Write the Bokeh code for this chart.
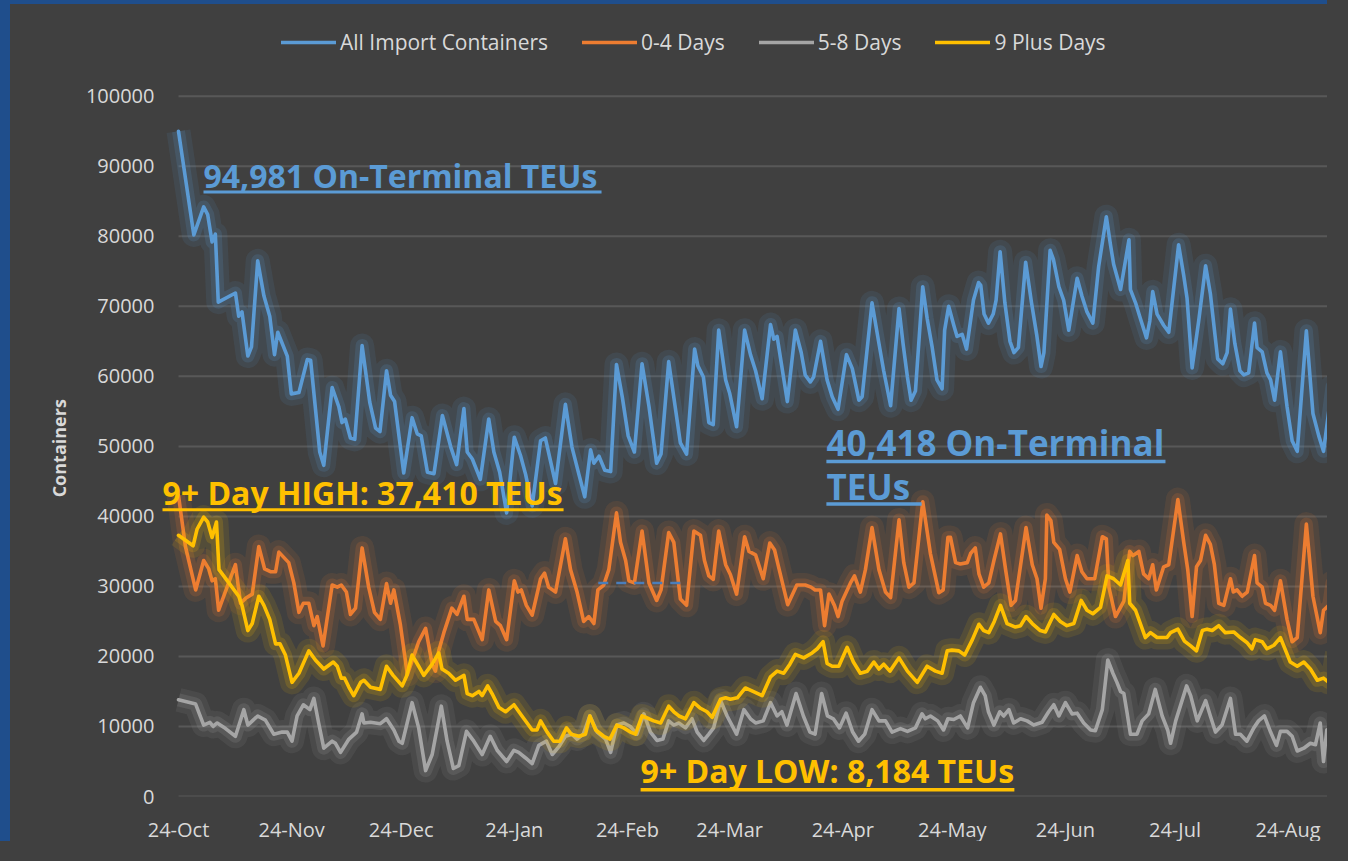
from datetime import datetime
from bokeh.plotting import figure
from bokeh.models import (Legend, LegendItem, Label, BoxAnnotation, FixedTicker,
                          NumeralTickFormatter, Range1d, ColumnDataSource)
from bokeh.embed import file_html
from bokeh.resources import INLINE

START = datetime(2021, 10, 24)

series_names = ["All Import Containers", "0-4 Days", "5-8 Days", "9 Plus Days"]
series_colors = ["#5B9BD5", "#ED7D31", "#A5A5A5", "#FFC000"]

tick_dates = [datetime(2021, 10, 24), datetime(2021, 11, 24), datetime(2021, 12, 24),
              datetime(2022, 1, 24), datetime(2022, 2, 24), datetime(2022, 3, 24),
              datetime(2022, 4, 24), datetime(2022, 5, 24), datetime(2022, 6, 24),
              datetime(2022, 7, 24), datetime(2022, 8, 24)]
tick_labels = ["24-Oct", "24-Nov", "24-Dec", "24-Jan", "24-Feb", "24-Mar",
               "24-Apr", "24-May", "24-Jun", "24-Jul", "24-Aug"]
y_ticks = [0, 10000, 20000, 30000, 40000, 50000, 60000, 70000, 80000, 90000, 100000]

# days since 24-Oct-2021 / containers
blue_days = [0, 4.2, 6.9, 8.0, 9.2, 10.1, 10.9, 15.6, 16.5, 17.4,
             19.0, 20.0, 21.7, 23.4, 25.0, 26.3, 27.2, 29.8, 30.9, 33.0,
             35.3, 36.2, 38.7, 39.8, 42.1, 43.9, 44.8, 45.7, 47.1, 48.3,
             50.3, 52.4, 54.0, 55.2, 57.0, 58.1, 59.2, 61.7, 64.0, 65.4,
             66.5, 68.2, 70.0, 72.3, 74.6, 76.2, 78.2, 79.1, 80.5, 82.7,
             85.0, 86.4, 88.0, 89.9, 92.0, 93.7, 95.1, 96.9, 99.2, 100.5,
             103.3, 106.0, 107.8, 109.7, 111.3, 112.9, 113.8, 115.2, 116.8, 118.4,
             120.0, 121.6, 123.2, 124.9, 127.0, 128.9, 131.0, 132.2, 134.3, 135.7,
             137.5, 139.2, 141.4, 142.3, 143.8, 145.3, 146.5, 148.0, 149.9, 151.0,
             152.9, 155.1, 156.7, 158.1, 159.9, 162.2, 163.1, 164.0, 166.8, 169.0,
             170.6, 171.7, 173.1, 174.0, 175.9, 177.7, 179.1, 180.7, 183.0, 184.6,
             186.4, 187.3, 190.0, 191.9, 193.2, 195.1, 197.4, 198.5, 199.7, 200.7,
             201.9, 203.9, 205.1, 206.5, 207.8, 209.2, 209.9, 211.0, 212.4, 213.3,
             214.7, 215.9, 217.8, 219.2, 219.8, 220.7, 221.9, 223.2, 224.0, 225.1,
             226.4, 227.8, 228.9, 230.1, 232.1, 233.7, 235.1, 236.3, 237.1, 238.8,
             239.7, 241.2, 242.5, 243.9, 246.2, 247.5, 248.9, 250.5, 252.1, 254.2,
             255.3, 256.2, 258.1, 260.4, 260.8, 262.2, 263.5, 265.2, 266.1, 266.9,
             268.1, 269.9, 271.3, 274.0, 275.4, 276.3, 277.7, 279.5, 281.4, 282.7,
             284.7, 286.1, 287.3, 288.2, 289.4, 290.8, 291.9, 293.2, 294.8, 295.5,
             296.9, 298.2, 299.2, 300.3, 301.9, 303.7, 305.1, 306.5, 309.0, 310.8,
             312.4, 313.7, 316.0, 317.4]
blue_vals = [95000, 80200, 84200, 83100, 79200, 80300, 70600, 71900, 68600, 69200,
             62900, 64200, 76500, 71500, 68600, 63100, 66300, 62900, 57500, 57700,
             62400, 62300, 49200, 47300, 58400, 55700, 53400, 53900, 51200, 51000,
             64400, 56300, 52600, 52100, 60800, 57300, 56400, 46200, 54100, 51800,
             51500, 46300, 46100, 54400, 49900, 47400, 55400, 49200, 48200, 45300,
             53900, 49200, 46300, 40500, 51300, 48700, 46000, 41500, 50800, 51200,
             44700, 56000, 49900, 46000, 42800, 49500, 47600, 48600, 46600, 46400,
             61700, 57000, 51500, 49200, 61800, 55700, 47600, 48900, 62100, 57000,
             50500, 48900, 63900, 61500, 59900, 53400, 53100, 66600, 59500, 57600,
             52800, 66600, 63100, 60800, 56800, 67400, 65300, 65700, 56400, 66600,
             63400, 60200, 59200, 59900, 65000, 59500, 57100, 55300, 63100, 61100,
             56600, 57100, 70500, 64700, 60800, 55800, 69700, 64700, 59900, 56600,
             57900, 72800, 68300, 64100, 59500, 58200, 66600, 70000, 67300, 65700,
             66000, 63900, 70900, 73400, 73000, 68900, 67600, 68900, 70900, 77800,
             70500, 65000, 63400, 64100, 76300, 70500, 66000, 61400, 63400, 78000,
             76700, 72800, 70900, 66600, 74000, 71500, 69200, 67600, 75700, 82800,
             78900, 76000, 72400, 79500, 72400, 70500, 68300, 65500, 67900, 72100,
             68900, 67300, 66300, 78800, 74400, 71200, 61200, 67900, 75800, 71800,
             62500, 61800, 63400, 69600, 64700, 60800, 60200, 60500, 67600, 64100,
             63500, 60500, 59500, 56600, 63500, 55700, 50800, 49300, 66500, 54700,
             51500, 49300, 58500, 56300]

orange_days = [0, 1.9, 4.7, 6.9, 8.3, 9.2, 10.1, 11.0, 13.3, 15.6,
               17.0, 18.4, 20.2, 22.0, 23.6, 25.2, 26.6, 27.5, 30.2, 31.6,
               33.0, 34.2, 35.7, 37.1, 38.0, 39.6, 42.1, 43.5, 44.6, 46.0,
               47.1, 48.5, 50.3, 52.1, 53.7, 55.3, 57.0, 58.1, 59.0, 60.8,
               62.7, 65.8, 67.7, 69.5, 70.4, 71.3, 72.7, 74.9, 76.3, 78.2,
               79.1, 80.9, 83.2, 85.0, 86.9, 88.2, 89.9, 92.0, 93.0, 93.9,
               95.3, 96.9, 99.2, 100.3, 101.4, 103.3, 106.0, 107.4, 109.2, 111.0,
               112.4, 113.8, 114.9, 116.5, 117.9, 120.0, 121.1, 122.5, 123.4, 124.9,
               127.0, 128.9, 131.0, 132.2, 134.3, 135.7, 137.5, 139.2, 141.2, 143.0,
               144.1, 145.3, 146.5, 148.0, 149.9, 151.2, 152.9, 155.1, 156.3, 158.1,
               160.2, 162.0, 163.3, 164.4, 166.9, 169.4, 171.7, 173.3, 174.4, 175.9,
               177.0, 178.2, 179.7, 180.7, 181.8, 184.1, 185.2, 186.8, 188.2, 190.0,
               191.9, 193.7, 195.1, 197.4, 198.7, 200.1, 201.5, 203.9, 206.0, 208.3,
               209.5, 210.8, 211.5, 212.9, 214.2, 216.1, 217.0, 218.3, 219.3, 220.6,
               222.0, 223.4, 225.2, 226.6, 228.1, 229.3, 232.2, 233.9, 235.2, 236.3,
               237.5, 237.9, 239.0, 239.8, 241.4, 243.0, 244.2, 246.2, 247.5, 248.9,
               251.0, 253.1, 254.2, 254.9, 256.7, 259.0, 260.6, 261.5, 263.1, 264.4,
               265.8, 266.9, 267.9, 269.9, 271.3, 273.8, 275.4, 276.5, 277.7, 278.9,
               280.0, 281.4, 282.7, 283.8, 285.0, 286.4, 288.2, 289.0, 290.0, 291.4,
               292.8, 294.8, 295.5, 296.9, 297.8, 299.2, 300.3, 301.9, 303.7, 305.1,
               306.5, 309.0, 310.8, 312.8, 313.7, 315.1, 316.0, 317.4]
orange_vals = [43000, 35700, 29500, 33700, 32500, 30800, 31100, 26600, 29900, 33100,
               27600, 28300, 28900, 35700, 32500, 32100, 32100, 34900, 33400, 30500,
               26300, 27600, 27600, 24400, 25700, 21500, 30200, 29900, 30200, 29200,
               26000, 26900, 35500, 29900, 26300, 25300, 30400, 27600, 29500, 24500,
               17400, 22100, 24000, 18900, 17900, 20800, 23400, 26900, 26000, 28600,
               25300, 25300, 22400, 29500, 25000, 24400, 22400, 30800, 29200, 29500,
               27300, 25900, 31100, 31900, 29900, 29200, 36800, 32400, 29200, 25000,
               25700, 24700, 29500, 30200, 32400, 40500, 36300, 33700, 30800, 30500,
               37900, 30500, 28000, 29500, 37700, 36300, 28200, 27300, 37900, 37300,
               33700, 31500, 31000, 37900, 33100, 31700, 28900, 37100, 35000, 34500,
               31100, 36200, 35200, 32800, 27400, 30200, 30200, 29900, 29500, 29500,
               24400, 28900, 27300, 25700, 27900, 30500, 31500, 29200, 32400, 38400,
               32400, 29200, 28400, 39500, 33400, 29900, 30500, 42100, 34700, 29100,
               29500, 37000, 37000, 33400, 33200, 33400, 34700, 35500, 31800, 29900,
               30500, 33700, 37500, 32400, 27300, 28000, 38400, 33100, 31100, 26900,
               31100, 40200, 39400, 36300, 35300, 31100, 29200, 34400, 32100, 31100,
               31100, 37100, 36800, 29900, 25700, 27900, 35000, 34400, 35000, 31800,
               31100, 33100, 29500, 32800, 33100, 42400, 36300, 32400, 25700, 32800,
               33700, 37300, 36000, 33100, 27600, 27300, 31100, 29200, 29500, 28600,
               29200, 34400, 30500, 29900, 27600, 27300, 26600, 30800, 25300, 22100,
               22700, 38900, 28600, 23400, 26600, 27300, 30500, 24400]

gray_days = [0, 4.7, 6.9, 8.6, 9.5, 10.6, 12.9, 15.6, 17.9, 19.0,
             21.7, 23.8, 26.1, 28.4, 29.8, 31.1, 32.5, 34.2, 36.0, 37.1,
             38.4, 39.8, 42.1, 43.0, 44.4, 46.7, 48.8, 50.3, 50.8, 52.6,
             55.3, 57.0, 59.0, 60.4, 61.3, 64.0, 65.8, 67.7, 69.5, 72.0,
             73.6, 75.3, 76.8, 78.9, 80.9, 83.2, 85.4, 87.3, 89.9, 91.9,
             93.2, 95.1, 96.9, 98.7, 100.8, 102.4, 104.2, 106.0, 107.8, 109.2,
             110.9, 112.7, 114.7, 117.0, 118.4, 120.1, 122.0, 123.8, 125.6, 127.5,
             129.3, 131.1, 132.7, 134.3, 135.7, 137.1, 138.9, 140.7, 142.1, 143.9,
             145.3, 146.6, 148.5, 150.3, 152.9, 154.9, 156.7, 158.1, 160.2, 162.2,
             164.0, 165.3, 166.7, 169.2, 171.2, 173.0, 174.4, 176.2, 177.8, 179.4,
             181.1, 182.9, 184.7, 186.3, 188.0, 190.0, 191.9, 193.7, 195.5, 197.8,
             199.7, 201.9, 203.7, 204.6, 206.0, 208.0, 209.6, 210.8, 212.4, 214.2,
             216.2, 217.8, 219.7, 221.0, 221.9, 223.4, 225.0, 226.1, 227.5, 228.8,
             230.7, 232.5, 234.3, 236.6, 238.4, 239.8, 241.2, 243.0, 244.8, 246.2,
             248.0, 249.9, 251.2, 253.1, 254.6, 256.0, 257.1, 258.1, 259.0, 259.9,
             260.8, 262.6, 264.0, 265.8, 267.6, 269.5, 271.0, 271.8, 273.2, 276.2,
             277.3, 279.1, 281.4, 282.7, 284.1, 285.9, 288.2, 289.6, 290.9, 292.7,
             294.6, 295.9, 297.5, 299.2, 300.8, 301.9, 303.7, 305.1, 306.5, 308.3,
             310.1, 311.5, 312.8, 313.7, 314.6, 316.0, 317.4]
gray_vals = [13800, 13200, 10200, 10600, 10000, 10500, 9700, 8600, 12400, 10200,
             11500, 10900, 8900, 9200, 9200, 7900, 11500, 13100, 12400, 14000,
             10500, 6900, 7900, 7600, 6300, 8200, 9200, 11800, 10500, 10600,
             10400, 11100, 9500, 7900, 7600, 13400, 9800, 3700, 6000, 12900,
             7900, 4000, 4400, 9300, 7900, 6000, 8600, 6600, 5000, 6600,
             6300, 5500, 4700, 7300, 7900, 6000, 7100, 8600, 8900, 8200,
             8900, 11500, 9200, 8200, 6300, 10200, 10500, 10000, 8900, 11800,
             9200, 8000, 8200, 10800, 10200, 10500, 9800, 11100, 9200, 8000,
             8900, 9800, 13700, 11500, 8900, 12400, 11100, 10500, 10800, 13400,
             11500, 12100, 10200, 14700, 11500, 9200, 8900, 14700, 11500, 11100,
             9800, 11900, 9200, 7900, 8900, 12400, 10800, 10800, 9200, 9700,
             9300, 9800, 11800, 11100, 11500, 10800, 9500, 11100, 11000, 11500,
             9800, 13400, 15600, 14400, 12100, 10200, 12100, 11500, 12400, 10500,
             11100, 10800, 10200, 10600, 12100, 13100, 11500, 13400, 11800, 11900,
             10500, 9500, 9400, 12400, 19500, 17600, 16300, 15000, 14700, 11900,
             8900, 8900, 10800, 11800, 15300, 11500, 9500, 7600, 10800, 15800,
             14400, 10800, 13700, 11500, 9200, 10200, 14000, 8900, 8900, 7900,
             9800, 10800, 11500, 9200, 7300, 9300, 9300, 8600, 6500, 6900,
             7600, 7400, 10500, 5000, 9500, 9800, 10800]

yellow_days = [0, 4.0, 5.1, 6.9, 8.0, 9.2, 10.4, 11.1, 13.8, 16.5,
               17.4, 19.0, 20.2, 22.0, 23.4, 25.0, 26.6, 27.8, 29.3, 31.1,
               33.0, 35.7, 37.5, 39.8, 42.4, 43.5, 44.6, 45.5, 46.7, 48.0,
               49.9, 50.8, 52.6, 55.3, 57.0, 58.8, 61.3, 62.5, 64.0, 65.8,
               67.2, 69.5, 71.3, 72.2, 74.0, 75.9, 78.2, 79.1, 80.5, 82.3,
               83.2, 84.7, 85.9, 87.8, 89.6, 91.9, 94.1, 96.9, 98.2, 99.2,
               101.0, 102.8, 104.5, 106.3, 107.6, 109.7, 111.5, 112.7, 114.3, 116.5,
               118.2, 120.1, 122.0, 123.8, 125.2, 127.0, 128.9, 130.2, 132.1, 134.3,
               135.7, 137.1, 138.9, 141.2, 143.0, 144.8, 146.2, 148.5, 149.9, 151.2,
               153.1, 155.3, 157.4, 159.9, 162.2, 164.0, 165.8, 167.5, 169.0, 171.3,
               173.6, 175.0, 176.6, 177.7, 179.1, 180.9, 183.2, 184.9, 186.8, 188.7,
               190.5, 191.9, 193.2, 194.9, 197.4, 199.7, 202.4, 205.1, 207.4, 209.2,
               210.6, 211.9, 213.8, 215.4, 217.5, 219.3, 220.6, 222.0, 223.5, 225.2,
               227.0, 229.3, 230.7, 232.2, 233.9, 236.1, 237.5, 239.8, 241.6, 243.4,
               245.3, 247.3, 248.9, 250.5, 252.6, 254.4, 256.2, 258.1, 260.1, 260.6,
               262.2, 264.9, 266.3, 268.1, 270.8, 271.8, 273.8, 275.6, 277.3, 278.9,
               280.5, 281.8, 283.2, 285.0, 286.8, 289.1, 290.9, 292.7, 294.1, 295.0,
               296.9, 298.2, 300.1, 301.9, 304.6, 306.5, 308.3, 310.1, 312.0, 313.7,
               315.1, 316.5, 317.4]
yellow_vals = [37300, 35800, 38200, 39900, 39200, 37000, 39200, 32400, 30500, 28600,
               27300, 23700, 24700, 28600, 27300, 25300, 21800, 21800, 20200, 16300,
               17600, 20800, 19500, 18200, 19200, 18600, 16900, 16900, 15600, 14400,
               16300, 16600, 15600, 15300, 18600, 17300, 15800, 17200, 20200, 18600,
               17300, 18900, 20500, 18200, 17600, 16600, 17300, 14700, 14400, 15000,
               14400, 15800, 14700, 12700, 12100, 13100, 11500, 9500, 9500, 10800,
               9200, 7900, 7900, 9800, 8900, 8600, 8900, 11500, 9500, 8600,
               8200, 10200, 9800, 9200, 8900, 11500, 11100, 10800, 10500, 12900,
               12100, 11500, 11100, 13400, 12600, 12100, 11300, 13900, 14100, 13900,
               14100, 15500, 15000, 14400, 17100, 17900, 17600, 18900, 20300, 19800,
               20500, 21100, 22100, 19000, 18600, 18600, 21300, 19200, 17600, 17900,
               19200, 18200, 18900, 17900, 19800, 17900, 16300, 18600, 17900, 17600,
               20800, 20900, 20800, 20200, 22400, 24600, 23700, 23400, 25000, 27300,
               24700, 24200, 24400, 25700, 24700, 23700, 23500, 26000, 25000, 24400,
               24700, 28000, 26600, 26100, 27000, 31500, 31100, 30200, 33700, 27600,
               26600, 22700, 23400, 22700, 22700, 23400, 23900, 22200, 21500, 20800,
               23700, 23900, 23700, 24400, 23400, 23500, 22700, 22000, 21100, 22400,
               22100, 21100, 21600, 22700, 19200, 18600, 19200, 18200, 16600, 16900,
               16300, 17600, 20500]

dash_days = [115.0, 138.4]
dash_vals = [30500, 30500]

tick_days = [(d - START).days for d in tick_dates]
x_start, x_end = -4.93, 317.53

BG = "#404040"
TXT = "#D9D9D9"
FONT = "Open Sans"
FRAME_BLUE = "#1F4E8C"

p = figure(width=1327, height=841, output_backend="svg", toolbar_location=None,
           title_location=None,
           x_range=Range1d(x_start, x_end), y_range=Range1d(0, 112820),
           min_border_left=150, min_border_right=0, min_border_top=2, min_border_bottom=47,
           background_fill_color=BG, border_fill_color=BG, outline_line_color=None)
p.styles = {"border-left": "10px solid " + FRAME_BLUE, "border-top": "4px solid " + FRAME_BLUE}

p.xgrid.visible = False
p.ygrid.visible = False
# horizontal gridlines spanning the data period only
p.segment(x0=[0] * len(y_ticks), x1=[x_end] * len(y_ticks), y0=y_ticks, y1=y_ticks,
          line_color="#585858", line_width=2)

p.yaxis.ticker = FixedTicker(ticks=y_ticks)
p.yaxis.formatter = NumeralTickFormatter(format="0")
p.xaxis.ticker = FixedTicker(ticks=tick_days)
p.xaxis.major_label_overrides = {d: lab for d, lab in zip(tick_days, tick_labels)}

for ax in (p.xaxis[0], p.yaxis[0]):
    ax.axis_line_color = None
    ax.major_tick_line_color = None
    ax.minor_tick_line_color = None
    ax.major_tick_out = 0
    ax.major_tick_in = 0
    ax.major_label_text_font = FONT
    ax.major_label_text_font_size = "20px"
    ax.major_label_text_color = TXT
p.yaxis.major_label_standoff = 6
p.xaxis.major_label_standoff = 19
# trailing no-break spaces shift the centred title down to the middle of 0..100000
p.yaxis.axis_label = "Containers" + "\u00a0" * 20
p.yaxis.axis_label_text_font = FONT
p.yaxis.axis_label_text_font_style = "bold"
p.yaxis.axis_label_text_font_size = "18px"
p.yaxis.axis_label_text_color = TXT
p.yaxis.axis_label_standoff = 12

all_days = [blue_days, orange_days, gray_days, yellow_days]
all_vals = [blue_vals, orange_vals, gray_vals, yellow_vals]
main_renderers = []
for days, vals, col in zip(all_days, all_vals, series_colors):
    src = ColumnDataSource(dict(x=days, y=vals))
    p.line("x", "y", source=src, line_color=col, line_width=24, line_alpha=0.10, line_join="round")
    p.line("x", "y", source=src, line_color=col, line_width=13, line_alpha=0.16, line_join="round")
    r = p.line("x", "y", source=src, line_color=col, line_width=3.6, line_join="round", line_cap="round")
    main_renderers.append(r)

p.line(dash_days, dash_vals, line_color="#4A7EBB", line_width=2.5, line_dash="10 8")

legend = Legend(items=[LegendItem(label=n, renderers=[r]) for n, r in zip(series_names, main_renderers)],
                orientation="horizontal", location=(121, 740),
                glyph_width=55, glyph_height=20, label_standoff=4, spacing=34,
                padding=2, margin=0, background_fill_alpha=0, border_line_color=None,
                label_text_font=FONT, label_text_font_size="21px", label_text_color=TXT)
p.add_layout(legend)

BLUE = "#5B9BD5"
GOLD = "#FFC000"


def add_note(text, x, y, size, color, x_end_, u_top, u_bottom):
    p.add_layout(Label(x=x, y=y, text=text, text_font=FONT, text_font_style="bold",
                       text_font_size=size, text_color=color,
                       text_align="left", text_baseline="alphabetic"))
    p.add_layout(BoxAnnotation(left=x, right=x_end_, top=u_top, bottom=u_bottom,
                               fill_color=color, fill_alpha=1.0, line_color=None))


add_note("94,981 On-Terminal TEUs", 6.85, 88750, "32px", BLUE, 115.9, 86540, 86110)
add_note("40,418 On-Terminal", 177.5, 50570, "35px", BLUE, 270.4, 48080, 47580)
add_note("TEUs", 177.5, 44300, "35px", BLUE, 203.6, 42020, 41520)
add_note("9+ Day HIGH: 37,410 TEUs", -4.38, 43450, "32px", GOLD, 105.5, 41170, 40740)
add_note("9+ Day LOW: 8,184 TEUs", 126.6, 3700, "32px", GOLD, 229.0, 1210, 710)

html = file_html(p, INLINE, title="Import Containers")
html = html.replace("</head>", "<style>html, body { background-color: #404040; }</style></head>", 1)
open("out.html", "w").write(html)
